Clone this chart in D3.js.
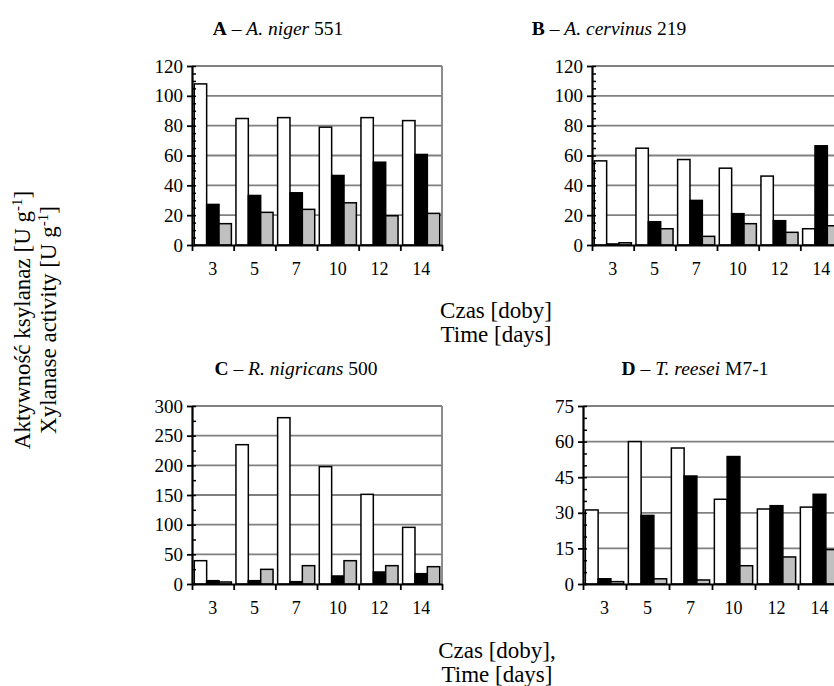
<!DOCTYPE html>
<html>
<head>
<meta charset="utf-8">
<script src="https://cdn.jsdelivr.net/npm/d3@7"></script>
<style>
  body { margin: 0; background: #fff; }
  svg { display: block; font-family: "Liberation Serif", "Times New Roman", serif; }
</style>
</head>
<body>
<div id="chart"></div>
<script>
var width = 834;
var height = 686;
var serif = "Liberation Serif, Times New Roman, serif";

// days of cultivation
var days = ["3", "5", "7", "10", "12", "14"];

// A - A. niger 551
var aWhite = [108, 84.8, 85.4, 79, 85.4, 83.4];
var aBlack = [27.2, 33.2, 35, 46.6, 55.5, 60.7];
var aGray = [14.3, 21.9, 23.9, 28.3, 19.6, 21.2];

// B - A. cervinus 219
var bWhite = [56.4, 64.9, 57.3, 51.5, 46.2, 10.9];
var bBlack = [0.7, 15.6, 29.9, 21, 16.3, 66.5];
var bGray = [1.5, 10.9, 5.8, 14.3, 8.5, 12.9];

// C - R. nigricans 500
var cWhite = [39.3, 234.8, 280.3, 197.8, 151.1, 95.5];
var cBlack = [5.6, 5.6, 3.9, 13.5, 20.2, 17.4];
var cGray = [3.4, 24.7, 30.9, 39.3, 30.9, 29.2];

// D - T. reesei M7-1
var dWhite = [31.2, 60, 57.3, 35.7, 31.6, 32.4];
var dBlack = [2.2, 28.9, 45.5, 53.7, 33, 37.8];
var dGray = [1.0, 2.2, 1.7, 7.7, 11.4, 14.5];

// y tick labels
var ticksAB = [0, 20, 40, 60, 80, 100, 120];
var ticksC = [0, 50, 100, 150, 200, 250, 300];
var ticksD = [0, 15, 30, 45, 60, 75];

var fills = ["#ffffff", "#000000", "#c0c0c0"];

var svg = d3.select("#chart")
    .append("svg")
    .attr("width", width)
    .attr("height", height);

var panels = [
    { letter: "A", name: "A. niger", num: "551", series: [aWhite, aBlack, aGray], ticks: ticksAB, minor: 5,
      left: 192, right: 442, top: 66, bottom: 245, titleX: 278, titleY: 35 },
    { letter: "B", name: "A. cervinus", num: "219", series: [bWhite, bBlack, bGray], ticks: ticksAB, minor: 5,
      left: 592, right: 842, top: 66, bottom: 245, titleX: 609, titleY: 35 },
    { letter: "C", name: "R. nigricans", num: "500", series: [cWhite, cBlack, cGray], ticks: ticksC, minor: 25,
      left: 192, right: 442, top: 406, bottom: 584, titleX: 296, titleY: 375 },
    { letter: "D", name: "T. reesei", num: "M7-1", series: [dWhite, dBlack, dGray], ticks: ticksD, minor: 5,
      left: 583, right: 841, top: 406, bottom: 584, titleX: 695, titleY: 375 }
];

function drawPanel(p) {
    var g = svg.append("g");
    var maxY = p.ticks[p.ticks.length - 1];

    var x0 = d3.scaleBand().domain(days).range([p.left, p.right]);
    var x1 = d3.scaleBand().domain([0, 1, 2]).range([0, x0.bandwidth()]).paddingOuter(0.185);
    var y = d3.scaleLinear().domain([0, maxY]).range([p.bottom, p.top]);

    // grid
    g.selectAll(".grid")
        .data(p.ticks.filter(function(t) { return t > 0; }))
        .enter().append("line")
        .attr("x1", p.left)
        .attr("x2", p.right)
        .attr("y1", function(d) { return y(d); })
        .attr("y2", function(d) { return y(d); })
        .attr("stroke", "#808080")
        .attr("stroke-width", 1.8);

    g.append("line")
        .attr("x1", p.right).attr("x2", p.right)
        .attr("y1", p.top).attr("y2", p.bottom)
        .attr("stroke", "#808080")
        .attr("stroke-width", 1.8);

    // bars
    p.series.forEach(function(values, i) {
        g.selectAll(".bar" + i)
            .data(values)
            .enter().append("rect")
            .attr("x", function(d, j) { return x0(days[j]) + x1(i); })
            .attr("y", function(d) { return y(d); })
            .attr("width", x1.bandwidth())
            .attr("height", function(d) { return p.bottom - y(d); })
            .attr("fill", fills[i])
            .attr("stroke", "#000")
            .attr("stroke-width", 1.5);
    });

    // minor y ticks (inside)
    var minorVals = d3.range(0, maxY + 0.001, p.minor);
    g.append("g")
        .attr("transform", "translate(" + p.left + ",0)")
        .call(d3.axisRight(y).tickValues(minorVals).tickSize(4).tickFormat(""))
        .call(function(a) { a.select(".domain").remove(); })
        .selectAll("line").attr("stroke", "#000").attr("stroke-width", 1.5);

    // y axis
    var yAxis = g.append("g")
        .attr("transform", "translate(" + p.left + ",0)")
        .call(d3.axisLeft(y).tickValues(p.ticks).tickSize(5).tickPadding(4).tickSizeOuter(0));
    yAxis.attr("font-family", serif).attr("font-size", 19);
    yAxis.select(".domain").attr("stroke", "#000").attr("stroke-width", 2.2);
    yAxis.selectAll("line").attr("stroke", "#000").attr("stroke-width", 1.8);
    yAxis.selectAll("text").attr("fill", "#000");

    // x axis with category boundary ticks
    var xb = d3.scaleLinear().domain([0, days.length]).range([p.left, p.right]);
    var xAxis = g.append("g")
        .attr("transform", "translate(0," + p.bottom + ")")
        .call(d3.axisBottom(xb).tickValues(d3.range(days.length + 1)).tickSize(6).tickFormat("").tickSizeOuter(0));
    xAxis.select(".domain").attr("stroke", "#000").attr("stroke-width", 2.2);
    xAxis.selectAll("line").attr("stroke", "#000").attr("stroke-width", 1.8);

    var xLab = g.append("g")
        .attr("transform", "translate(0," + p.bottom + ")")
        .call(d3.axisBottom(x0).tickSize(0).tickPadding(17));
    xLab.attr("font-family", serif).attr("font-size", 18);
    xLab.select(".domain").remove();
    xLab.selectAll("text").attr("fill", "#000");

    // title
    var t = svg.append("text")
        .attr("x", p.titleX)
        .attr("y", p.titleY)
        .attr("text-anchor", "middle")
        .style("font-size", "19.5px");
    t.append("tspan").style("font-weight", "bold").text(p.letter);
    t.append("tspan").text(" \u2013 ");
    t.append("tspan").style("font-style", "italic").text(p.name);
    t.append("tspan").text(" " + p.num);
}

panels.forEach(drawPanel);

// x axis titles
function timeTitle(x, y, first) {
    var t = svg.append("text")
        .attr("x", x)
        .attr("y", y)
        .attr("text-anchor", "middle")
        .style("font-size", "23px");
    t.append("tspan").attr("x", x).text(first);
    t.append("tspan").attr("x", x).attr("dy", 24).text("Time [days]");
}
timeTitle(496, 318, "Czas [doby]");
timeTitle(497, 658, "Czas [doby],");

// y axis title
function yTitle(x, main) {
    var t = svg.append("text")
        .attr("transform", "translate(" + x + ",320) rotate(-90)")
        .attr("text-anchor", "middle")
        .style("font-size", "23px");
    t.append("tspan").text(main + " [U g");
    t.append("tspan").attr("dy", -8).style("font-size", "15px").text("-1");
    t.append("tspan").attr("dy", 8).text("]");
}
yTitle(30, "Aktywność ksylanaz");
yTitle(56, "Xylanase activity");
</script>
</body>
</html>
